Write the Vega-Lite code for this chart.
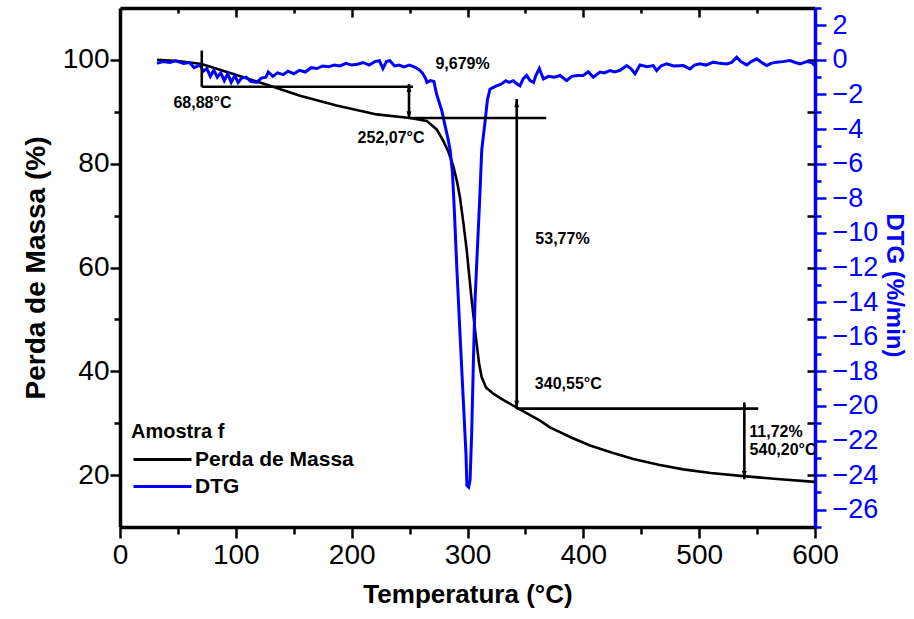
{
  "$schema": "https://vega.github.io/schema/vega-lite/v6.json",
  "width": 695,
  "height": 519,
  "autosize": {"type": "none"},
  "padding": {"left": 120, "top": 8, "right": 99, "bottom": 92},
  "background": "white",
  "datasets": {
    "mass": [
      {"T": 32, "m": 100.0}, {"T": 50, "m": 99.8}, {"T": 70.5, "m": 99.2}, {"T": 97.8, "m": 97.3},
      {"T": 129.5, "m": 95.0}, {"T": 155.4, "m": 93.1}, {"T": 187, "m": 91.2}, {"T": 221.6, "m": 89.5},
      {"T": 250.4, "m": 88.8}, {"T": 264.8, "m": 88.25}, {"T": 273.4, "m": 86.6}, {"T": 279.1, "m": 84.4},
      {"T": 283.5, "m": 82.3}, {"T": 287.8, "m": 79.5}, {"T": 291, "m": 76.5}, {"T": 293.5, "m": 73.5},
      {"T": 296.5, "m": 68.5}, {"T": 299.3, "m": 63.4}, {"T": 303.6, "m": 53.7}, {"T": 307.9, "m": 45.3},
      {"T": 310, "m": 41.5}, {"T": 312.2, "m": 38.9}, {"T": 316, "m": 36.9}, {"T": 322.3, "m": 35.7},
      {"T": 330, "m": 34.6}, {"T": 342.5, "m": 33.0}, {"T": 362.6, "m": 30.5}, {"T": 371.2, "m": 29.2},
      {"T": 390, "m": 27.2}, {"T": 405.8, "m": 25.7}, {"T": 425, "m": 24.3}, {"T": 443.2, "m": 23.1},
      {"T": 465, "m": 22.0}, {"T": 486.3, "m": 21.1}, {"T": 510, "m": 20.4}, {"T": 538.1, "m": 19.8},
      {"T": 570, "m": 19.2}, {"T": 600, "m": 18.7}
    ],
    "dtg": [
      {"T": 32, "d": -0.2}, {"T": 37, "d": -0.1}, {"T": 43, "d": -0.15}, {"T": 48, "d": -0.05},
      {"T": 55, "d": -0.2}, {"T": 60, "d": -0.15}, {"T": 64, "d": -0.45}, {"T": 69, "d": -0.3},
      {"T": 72, "d": -0.65}, {"T": 75, "d": -0.5}, {"T": 78, "d": -0.95}, {"T": 81, "d": -0.6},
      {"T": 84, "d": -1.0}, {"T": 87, "d": -0.75}, {"T": 90, "d": -1.2}, {"T": 93, "d": -0.8},
      {"T": 96, "d": -1.3}, {"T": 99, "d": -0.9}, {"T": 102, "d": -1.3}, {"T": 105, "d": -1.05},
      {"T": 109, "d": -1.0}, {"T": 113, "d": -1.25}, {"T": 118, "d": -1.3}, {"T": 122, "d": -1.05},
      {"T": 126, "d": -1.0}, {"T": 128, "d": -0.7}, {"T": 132, "d": -0.95}, {"T": 136, "d": -0.75},
      {"T": 141, "d": -0.85}, {"T": 145, "d": -0.65}, {"T": 150, "d": -0.8}, {"T": 155, "d": -0.6},
      {"T": 160, "d": -0.7}, {"T": 165, "d": -0.45}, {"T": 170, "d": -0.5}, {"T": 175, "d": -0.35},
      {"T": 180, "d": -0.4}, {"T": 185, "d": -0.3}, {"T": 190, "d": -0.35}, {"T": 195, "d": -0.2},
      {"T": 200, "d": -0.3}, {"T": 205, "d": -0.25}, {"T": 210, "d": -0.15}, {"T": 215, "d": -0.3},
      {"T": 220, "d": -0.1}, {"T": 224, "d": -0.05}, {"T": 227, "d": -0.5}, {"T": 230, "d": -0.1},
      {"T": 233, "d": -0.05}, {"T": 237, "d": -0.35}, {"T": 241, "d": -0.3}, {"T": 245, "d": -0.4},
      {"T": 250, "d": -0.3}, {"T": 254, "d": -0.4}, {"T": 258, "d": -0.55}, {"T": 261, "d": -0.75},
      {"T": 264, "d": -1.1}, {"T": 265, "d": -1.3}, {"T": 268, "d": -1.2}, {"T": 271, "d": -1.25},
      {"T": 273.4, "d": -2.0}, {"T": 277.7, "d": -2.9}, {"T": 280.6, "d": -3.8}, {"T": 283, "d": -4.5},
      {"T": 285, "d": -5.2}, {"T": 287, "d": -6.5}, {"T": 288.5, "d": -8.5}, {"T": 290.7, "d": -11.9},
      {"T": 293.5, "d": -15.8}, {"T": 296.4, "d": -19.7}, {"T": 298.7, "d": -22.8}, {"T": 299.5, "d": -24.6},
      {"T": 301, "d": -24.7}, {"T": 302.2, "d": -24.3}, {"T": 303.6, "d": -21.6}, {"T": 305, "d": -17.7},
      {"T": 306.5, "d": -13.9}, {"T": 308.5, "d": -11.0}, {"T": 310.5, "d": -8.1}, {"T": 312.3, "d": -5.2},
      {"T": 315.1, "d": -3.6}, {"T": 317.2, "d": -2.3}, {"T": 319.4, "d": -1.7}, {"T": 322, "d": -1.6},
      {"T": 325, "d": -1.5}, {"T": 329, "d": -1.4}, {"T": 333, "d": -1.2}, {"T": 336, "d": -1.3},
      {"T": 339.6, "d": -1.2}, {"T": 342, "d": -1.35}, {"T": 345.3, "d": -1.5}, {"T": 348, "d": -1.1},
      {"T": 351, "d": -0.9}, {"T": 354, "d": -1.2}, {"T": 357, "d": -1.3}, {"T": 359, "d": -0.9},
      {"T": 362, "d": -0.5}, {"T": 365.5, "d": -1.1}, {"T": 370, "d": -0.95}, {"T": 375, "d": -1.0},
      {"T": 380, "d": -0.9}, {"T": 385.6, "d": -1.2}, {"T": 390, "d": -0.95}, {"T": 395, "d": -0.9},
      {"T": 400, "d": -0.9}, {"T": 404.3, "d": -0.68}, {"T": 408.6, "d": -1.0}, {"T": 414.4, "d": -0.7},
      {"T": 418, "d": -0.75}, {"T": 423, "d": -0.62}, {"T": 427, "d": -0.7}, {"T": 431.7, "d": -0.6},
      {"T": 437.5, "d": -0.33}, {"T": 441, "d": -0.5}, {"T": 444.6, "d": -0.8}, {"T": 448.9, "d": -0.3},
      {"T": 455, "d": -0.4}, {"T": 460.4, "d": -0.33}, {"T": 463.3, "d": -0.62}, {"T": 467, "d": -0.35},
      {"T": 471.9, "d": -0.23}, {"T": 478, "d": -0.35}, {"T": 486.3, "d": -0.33}, {"T": 492.1, "d": -0.52},
      {"T": 496, "d": -0.3}, {"T": 500.7, "d": -0.23}, {"T": 506, "d": -0.3}, {"T": 512.2, "d": -0.13},
      {"T": 518, "d": -0.2}, {"T": 523.8, "d": -0.23}, {"T": 528, "d": -0.15}, {"T": 532.4, "d": 0.16},
      {"T": 536, "d": -0.1}, {"T": 541.1, "d": -0.29}, {"T": 545, "d": -0.1}, {"T": 549.7, "d": 0.06},
      {"T": 554, "d": -0.15}, {"T": 558.3, "d": -0.33}, {"T": 562, "d": -0.2}, {"T": 566.9, "d": -0.13},
      {"T": 572, "d": -0.1}, {"T": 578.4, "d": -0.04}, {"T": 583, "d": -0.15}, {"T": 587.1, "d": -0.23},
      {"T": 592.9, "d": -0.1}, {"T": 597, "d": -0.15}, {"T": 600, "d": -0.33}
    ],
    "rules": [
      {"T": 70.6, "T2": 70.6, "m": 101.8, "m2": 94.8},
      {"T": 70.6, "T2": 253, "m": 94.83, "m2": 94.83},
      {"T": 249.5, "T2": 249.5, "m": 95.35, "m2": 88.6},
      {"T": 250, "T2": 368, "m": 88.8, "m2": 88.8},
      {"T": 342.5, "T2": 342.5, "m": 92.45, "m2": 32.8},
      {"T": 342.5, "T2": 551, "m": 32.8, "m2": 32.8},
      {"T": 539, "T2": 539, "m": 34.0, "m2": 19.2}
    ],
    "heads": [
      {"T": 249.5, "m": 94.58, "dir": "up"}, {"T": 249.5, "m": 89.35, "dir": "down"},
      {"T": 342.5, "m": 91.67, "dir": "up"}, {"T": 342.5, "m": 33.6, "dir": "down"},
      {"T": 539, "m": 33.3, "dir": "up"}, {"T": 539, "m": 20.0, "dir": "down"}
    ],
    "notes": [
      {"T": 71.2, "m": 91.7, "label": "68,88°C"},
      {"T": 234, "m": 84.9, "label": "252,07°C"},
      {"T": 382, "m": 65.5, "label": "53,77%"},
      {"T": 387, "m": 37.5, "label": "340,55°C"},
      {"T": 566.3, "m": 28.3, "label": "11,72%"},
      {"T": 572.4, "m": 24.9, "label": "540,20°C"}
    ],
    "dtgnote": [
      {"T": 295.7, "d": -0.23, "label": "9,679%"}
    ]
  },
  "config": {
    "view": {"stroke": null},
    "font": "Liberation Sans",
    "axis": {
      "grid": false,
      "labelFont": "Liberation Sans",
      "titleFont": "Liberation Sans",
      "labelColor": "#000000",
      "titleColor": "#000000",
      "tickColor": "#000000",
      "domainColor": "#000000",
      "domainWidth": 3.5,
      "tickWidth": 2.5
    }
  },
  "resolve": {
    "scale": {"y": "independent"},
    "axis": {"x": "independent", "y": "independent"}
  },
  "layer": [
    {
      "data": {"name": "mass"},
      "mark": {"type": "line", "strokeWidth": 2.6},
      "encoding": {
        "x": {"field": "T", "type": "quantitative",
          "scale": {"domain": [0, 600], "nice": false, "zero": false},
          "axis": {"orient": "bottom", "values": [0, 100, 200, 300, 400, 500, 600], "tickSize": 11,
            "domainWidth": 3.5, "tickWidth": 2.5,
            "labelFontSize": 28, "labelPadding": 3, "labelFlush": false,
            "title": "Temperatura (°C)", "titleFontSize": 26, "titleFontWeight": "bold", "titlePadding": 12}},
        "y": {"field": "m", "type": "quantitative",
          "scale": {"domain": [10, 110], "nice": false, "zero": false},
          "axis": {"orient": "left", "values": [20, 40, 60, 80, 100], "tickSize": 10,
            "domainWidth": 3.5, "tickWidth": 2.5,
            "labelFontSize": 28, "labelPadding": 1, "labelFlush": false,
            "title": "Perda de Massa (%)", "titleFontSize": 28, "titleFontWeight": "bold", "titlePadding": 12}},
        "color": {"datum": "Perda de Massa",
          "scale": {"domain": ["Perda de Massa", "DTG"], "range": ["#000000", "#0000ff"]},
          "legend": {"title": "Amostra f", "orient": "none", "legendX": 11, "legendY": 414,
            "symbolType": "M-1.6,0H10", "symbolSize": 100, "symbolStrokeWidth": 3,
            "labelOffset": 43, "labelFontSize": 21, "labelFontWeight": "bold", "labelFont": "Liberation Sans",
            "titleFontSize": 20, "titleFontWeight": "bold", "titleFont": "Liberation Sans",
            "rowPadding": 5, "titlePadding": 7, "labelColor": "#000000", "titleColor": "#000000"}}
      }
    },
    {
      "data": {"name": "dtg"},
      "mark": {"type": "line", "strokeWidth": 3},
      "encoding": {
        "x": {"field": "T", "type": "quantitative",
          "scale": {"domain": [0, 600], "nice": false, "zero": false},
          "axis": {"orient": "top", "values": [100, 200, 300, 400, 500], "tickSize": -9,
            "domainWidth": 3.5, "tickWidth": 2.5,
            "labels": false, "title": null}},
        "y": {"field": "d", "type": "quantitative",
          "scale": {"domain": [-27, 3], "nice": false, "zero": false},
          "axis": {"orient": "right", "values": [-26, -24, -22, -20, -18, -16, -14, -12, -10, -8, -6, -4, -2, 0, 2],
            "tickSize": 11, "tickColor": "#0000ff", "domainColor": "#0000ff", "domainWidth": 3.5, "tickWidth": 2.5,
            "labelColor": "#0000ff", "labelFontSize": 27, "labelPadding": 6, "labelFlush": false,
            "title": "DTG (%/min)", "titleColor": "#0000ff", "titleFontSize": 24, "titleFontWeight": "bold",
            "titlePadding": 4, "titleY": 277}},
        "color": {"datum": "DTG"}
      }
    },
    {
      "data": {"name": "rules"},
      "mark": {"type": "rule", "strokeWidth": 2.6, "color": "#000000"},
      "encoding": {
        "x": {"field": "T", "type": "quantitative",
          "axis": {"orient": "bottom", "values": [50, 150, 250, 350, 450, 550], "tickSize": 7, "tickWidth": 2.5,
            "labels": false, "domain": false, "title": null}},
        "x2": {"field": "T2"},
        "y": {"field": "m", "type": "quantitative",
          "scale": {"domain": [10, 110], "nice": false, "zero": false},
          "axis": {"orient": "left", "values": [30, 50, 70, 90], "tickSize": 6, "tickWidth": 2.5,
            "labels": false, "domain": false, "title": null}},
        "y2": {"field": "m2"}
      }
    },
    {
      "data": {"name": "heads"},
      "mark": {"type": "point", "filled": true, "size": 64, "color": "#000000", "opacity": 1},
      "encoding": {
        "x": {"field": "T", "type": "quantitative",
          "axis": {"orient": "top", "values": [50, 150, 250, 350, 450, 550], "tickSize": -5, "tickWidth": 2.5,
            "labels": false, "domain": false, "title": null}},
        "y": {"field": "m", "type": "quantitative",
          "scale": {"domain": [10, 110], "nice": false, "zero": false},
          "axis": {"orient": "right", "values": [20, 30, 40, 50, 60, 70, 80, 90, 100], "tickSize": -8, "tickWidth": 2.5,
            "labels": false, "domain": false, "title": null}},
        "shape": {"field": "dir", "type": "nominal",
          "scale": {"domain": ["up", "down"], "range": ["M0,-1L0.6,1L-0.6,1Z", "M0,1L0.6,-1L-0.6,-1Z"]},
          "legend": null}
      }
    },
    {
      "data": {"name": "notes"},
      "mark": {"type": "text", "font": "Liberation Sans Narrow, Liberation Sans", "fontSize": 16, "fontWeight": "bold", "color": "#000000"},
      "encoding": {
        "x": {"field": "T", "type": "quantitative", "axis": null},
        "y": {"field": "m", "type": "quantitative",
          "scale": {"domain": [10, 110], "nice": false, "zero": false}, "axis": null},
        "text": {"field": "label"}
      }
    },
    {
      "data": {"name": "dtgnote"},
      "mark": {"type": "text", "font": "Liberation Sans Narrow, Liberation Sans", "fontSize": 16, "fontWeight": "bold", "color": "#000000"},
      "encoding": {
        "x": {"field": "T", "type": "quantitative", "axis": null},
        "y": {"field": "d", "type": "quantitative",
          "scale": {"domain": [-27, 3], "nice": false, "zero": false},
          "axis": {"orient": "right", "values": [-27, -25, -23, -21, -19, -17, -15, -13, -11, -9, -7, -5, -3, -1, 1, 3],
            "tickSize": 6, "tickWidth": 2.5, "tickColor": "#0000ff", "labels": false, "domain": false, "title": null}},
        "text": {"field": "label"}
      }
    }
  ]
}
